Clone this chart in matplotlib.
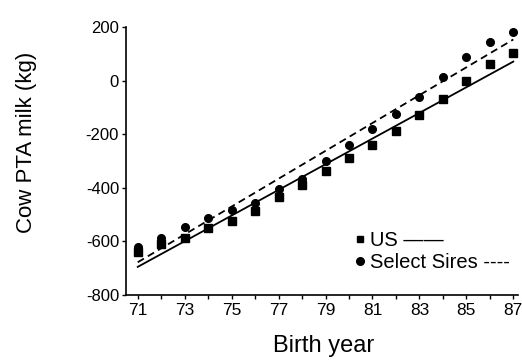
import numpy as np
import matplotlib
matplotlib.use("Agg")
import matplotlib.pyplot as plt
from matplotlib.lines import Line2D

plt.rcParams['font.family'] = ['Liberation Sans', 'DejaVu Sans']

years = [71, 72, 73, 74, 75, 76, 77, 78, 79, 80, 81, 82, 83, 84, 85, 86, 87]
us_milk = [-638, -611, -586, -551, -523, -486, -434, -389, -339, -290, -240, -187, -127, -68, -1, 62, 103]
select_sires = [-621, -588, -545, -511, -483, -455, -405, -368, -299, -239, -181, -125, -62, 15, 87, 143, 180]
x_ticklabels = ['71', '73', '75', '77', '79', '81', '83', '85', '87']
y_ticks = [-800, -600, -400, -200, 0, 200]

fig = plt.figure(figsize=(5.22, 3.6), dpi=100)
ax = fig.add_axes([126/522, 65/360, 392/522, 268/360])

x = np.array(years, dtype=float)
us = np.array(us_milk, dtype=float)
ss = np.array(select_sires, dtype=float)

ax.plot(x, us, 's', color='black', markersize=5.5, linestyle='none')
ax.plot(x, ss, 'o', color='black', markersize=5.5, linestyle='none')

pu = np.polyfit(x, us, 1)
ps = np.polyfit(x, ss, 1)
xl = np.array([x.min(), x.max()])
ax.plot(xl, np.polyval(pu, xl), '-', color='black', lw=1.3)
ax.plot(xl, np.polyval(ps, xl), '--', color='black', lw=1.3, dashes=(4, 2.5))

ax.set_xlim(70.5, 87.2)
ax.set_ylim(-800, 200)
ax.set_xticks(years)
ax.set_xticklabels([str(y) if str(y) in x_ticklabels else '' for y in years], fontsize=12.5)
ax.set_yticks(y_ticks)
ax.set_yticklabels([str(v) for v in y_ticks], fontsize=12)
ax.tick_params(axis='both', direction='out', length=3, width=1)
ax.tick_params(axis='x', pad=3)
ax.tick_params(axis='y', pad=2)
for s in ['top', 'right']:
    ax.spines[s].set_visible(False)
for s in ['left', 'bottom']:
    ax.spines[s].set_linewidth(1.2)

ax.set_xlabel('Birth year', fontsize=17)
ax.xaxis.label.set_va('center')
ax.xaxis.set_label_coords(0.505, -0.19)
ax.set_ylabel('Cow PTA milk (kg)', fontsize=16)
ax.yaxis.label.set_va('center')
ax.yaxis.set_label_coords(-0.255, 0.57)

handles = [Line2D([], [], marker='s', color='black', linestyle='none', markersize=5),
           Line2D([], [], marker='o', color='black', linestyle='none', markersize=5.5)]
ax.legend(handles, ['US ——', 'Select Sires ----'], loc='lower right',
          bbox_to_anchor=(1.0, 0.055), frameon=False, fontsize=14.5,
          handlelength=0.5, handletextpad=0.25, labelspacing=0.15, borderaxespad=0)

fig.savefig('out.png', dpi=100)
